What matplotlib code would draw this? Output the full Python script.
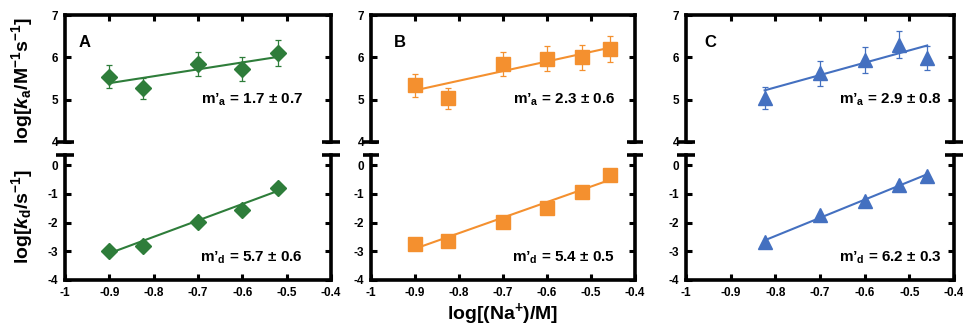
import numpy as np
import matplotlib
matplotlib.use("Agg")
import matplotlib.pyplot as plt

plt.rcParams['font.family'] = ['Liberation Sans', 'DejaVu Sans']
plt.rcParams['font.weight'] = 'bold'
plt.rcParams['mathtext.fontset'] = 'custom'
plt.rcParams['mathtext.rm'] = 'Liberation Sans:bold'
plt.rcParams['mathtext.it'] = 'Liberation Sans:bold:italic'
plt.rcParams['mathtext.bf'] = 'Liberation Sans:bold'

# ---- data ----
panel_names = ["A", "B", "C"]
colors = ["#2e7d3a", "#f4902f", "#4470c0"]
markers = ["D", "s", "^"]
marker_sizes = [8, 10, 10]

x_A = [-0.9, -0.824, -0.7, -0.6, -0.52]
x_B = [-0.9, -0.824, -0.7, -0.6, -0.52, -0.456]
x_C = [-0.824, -0.7, -0.6, -0.524, -0.46]

ka_A = [5.54, 5.27, 5.85, 5.73, 6.10]
ka_B = [5.34, 5.03, 5.85, 5.97, 6.00, 6.20]
ka_C = [5.04, 5.62, 5.93, 6.30, 5.98]

ka_err_A = [0.27, 0.25, 0.28, 0.28, 0.30]
ka_err_B = [0.27, 0.25, 0.28, 0.29, 0.29, 0.31]
ka_err_C = [0.25, 0.29, 0.31, 0.32, 0.29]

kd_A = [-3.00, -2.83, -1.97, -1.57, -0.80]
kd_B = [-2.74, -2.66, -1.97, -1.51, -0.94, -0.33]
kd_C = [-2.68, -1.75, -1.24, -0.70, -0.38]

# fitted lines: (x_start, x_end), (y_start, y_end)
fit_ka_x = [(-0.9, -0.52), (-0.9, -0.456), (-0.824, -0.46)]
fit_ka_y = [(5.39, 6.01), (5.22, 6.23), (5.22, 6.28)]
fit_kd_x = [(-0.9, -0.52), (-0.9, -0.456), (-0.824, -0.46)]
fit_kd_y = [(-3.07, -0.90), (-2.91, -0.51), (-2.62, -0.32)]

ma_text = ["m\u2019$_\\mathrm{a}$ = 1.7 \u00b1 0.7",
           "m\u2019$_\\mathrm{a}$ = 2.3 \u00b1 0.6",
           "m\u2019$_\\mathrm{a}$ = 2.9 \u00b1 0.8"]
md_text = ["m\u2019$_\\mathrm{d}$ = 5.7 \u00b1 0.6",
           "m\u2019$_\\mathrm{d}$ = 5.4 \u00b1 0.5",
           "m\u2019$_\\mathrm{d}$ = 6.2 \u00b1 0.3"]

x_ticks = [-1, -0.9, -0.8, -0.7, -0.6, -0.5, -0.4]
x_ticklabels = ["-1", "-0.9", "-0.8", "-0.7", "-0.6", "-0.5", "-0.4"]
ka_ticks = [4, 5, 6, 7]
kd_ticks = [-4, -3, -2, -1, 0]

xs = [x_A, x_B, x_C]
kas = [ka_A, ka_B, ka_C]
ka_errs = [ka_err_A, ka_err_B, ka_err_C]
kds = [kd_A, kd_B, kd_C]

# ---- layout ----
W, H = 963, 328
fig = plt.figure(figsize=(W / 100, H / 100), dpi=100)
lefts = [65, 371, 686]
widths = [266, 264, 268]
top_y = (15, 142)
bot_y = (155, 280)
text_x = [0.895, 0.924, 0.955]
label_x = [0.05, 0.087, 0.07]

spine_lw = 2.6

def style(ax):
    for s in ax.spines.values():
        s.set_linewidth(spine_lw)
    ax.tick_params(direction='in', length=4, width=2.2, labelsize=8.5, pad=5,
                   top=False, right=True)

for i in range(3):
    l = lefts[i] / W
    w = widths[i] / W
    axt = fig.add_axes([l, 1 - top_y[1] / H, w, (top_y[1] - top_y[0]) / H])
    axb = fig.add_axes([l, 1 - bot_y[1] / H, w, (bot_y[1] - bot_y[0]) / H])
    c = colors[i]

    # top: ka
    style(axt)
    axt.spines['bottom'].set_visible(False)
    axt.set_xlim(-1, -0.4)
    axt.set_ylim(4, 7)
    axt.set_yticks(ka_ticks)
    axt.set_yticklabels([str(t) for t in ka_ticks])
    axt.set_xticks(x_ticks[1:-1])
    axt.tick_params(axis='x', bottom=False, top=True, labelbottom=False)
    axt.plot(fit_ka_x[i], fit_ka_y[i], color=c, lw=1.5, zorder=2)
    axt.errorbar(xs[i], kas[i], yerr=ka_errs[i], fmt=markers[i], color=c,
                 ms=marker_sizes[i], mec=c, elinewidth=0.9, capsize=2,
                 capthick=0.9, zorder=3)
    axt.text(text_x[i], 0.33, ma_text[i], transform=axt.transAxes,
             ha='right', va='center', fontsize=11, fontweight='bold')
    axt.text(label_x[i], 0.78, panel_names[i], transform=axt.transAxes,
             ha='left', va='center', fontsize=12, fontweight='bold')
    for xe in (0.0, 1.0):
        axt.plot([xe - 0.032, xe + 0.032], [0, 0], transform=axt.transAxes,
                 color='k', lw=spine_lw, clip_on=False, solid_capstyle='butt')

    # bottom: kd
    style(axb)
    axb.spines['top'].set_visible(False)
    axb.set_xlim(-1, -0.4)
    axb.set_ylim(-4, 0.35)
    axb.set_yticks(kd_ticks)
    axb.set_yticklabels([str(t) for t in kd_ticks])
    axb.set_xticks(x_ticks)
    axb.set_xticklabels(x_ticklabels)
    axb.plot(fit_kd_x[i], fit_kd_y[i], color=c, lw=1.5, zorder=2)
    axb.plot(xs[i], kds[i], markers[i], color=c, ms=marker_sizes[i], mec=c,
             zorder=3)
    axb.text(text_x[i], 0.18, md_text[i], transform=axb.transAxes,
             ha='right', va='center', fontsize=11, fontweight='bold')
    for xe in (0.0, 1.0):
        axb.plot([xe - 0.032, xe + 0.032], [1, 1], transform=axb.transAxes,
                 color='k', lw=spine_lw, clip_on=False, solid_capstyle='butt')
    for lab in axb.get_xticklabels() + axb.get_yticklabels() + axt.get_yticklabels():
        lab.set_fontweight('bold')

fig.text(22 / W, 1 - 80 / H, "log[$k_\\mathrm{a}$/M$^{-1}$s$^{-1}$]",
         rotation=90, ha='center', va='center', fontsize=14, fontweight='bold')
fig.text(22 / W, 1 - 216 / H, "log[$k_\\mathrm{d}$/s$^{-1}$]",
         rotation=90, ha='center', va='center', fontsize=14, fontweight='bold')
fig.text(503 / W, 1 - 314 / H, "log[(Na$^{+}$)/M]",
         ha='center', va='center', fontsize=14, fontweight='bold')

fig.savefig("out.png", dpi=100)
